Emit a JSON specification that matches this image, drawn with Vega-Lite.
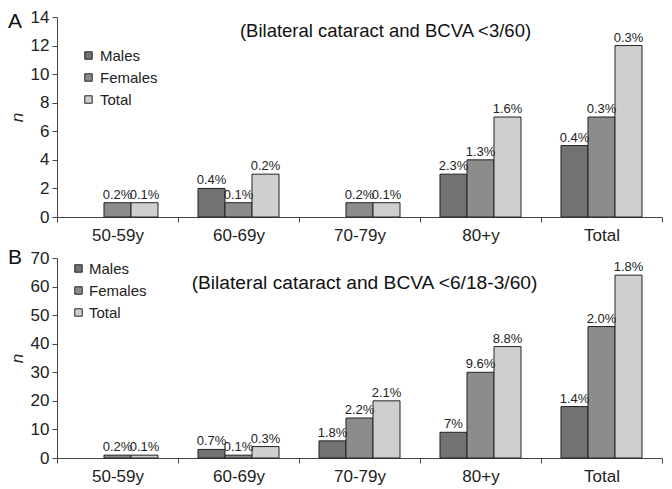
{
  "$schema": "https://vega.github.io/schema/vega-lite/v6.json",
  "background": "white",
  "padding": {"left": 8, "top": 8, "right": 2, "bottom": 2},
  "spacing": 4,
  "config": {
    "view": {"stroke": null},
    "font": "Liberation Sans",
    "axis": {"labelColor": "#222", "titleColor": "#222", "domainColor": "#444", "tickColor": "#444", "grid": false, "labelFontSize": 17, "labelFont": "Liberation Sans", "labelOverlap": false},
    "legend": {"labelFontSize": 15, "labelColor": "#222"}
  },
  "datasets": {
    "a": [
      {"age": "50-59y", "group": "Females", "n": 1, "label": "0.2%"},
      {"age": "50-59y", "group": "Total", "n": 1, "label": "0.1%"},
      {"age": "60-69y", "group": "Males", "n": 2, "label": "0.4%"},
      {"age": "60-69y", "group": "Females", "n": 1, "label": "0.1%"},
      {"age": "60-69y", "group": "Total", "n": 3, "label": "0.2%"},
      {"age": "70-79y", "group": "Females", "n": 1, "label": "0.2%"},
      {"age": "70-79y", "group": "Total", "n": 1, "label": "0.1%"},
      {"age": "80+y", "group": "Males", "n": 3, "label": "2.3%"},
      {"age": "80+y", "group": "Females", "n": 4, "label": "1.3%"},
      {"age": "80+y", "group": "Total", "n": 7, "label": "1.6%"},
      {"age": "Total", "group": "Males", "n": 5, "label": "0.4%"},
      {"age": "Total", "group": "Females", "n": 7, "label": "0.3%"},
      {"age": "Total", "group": "Total", "n": 12, "label": "0.3%"}
    ],
    "b": [
      {"age": "50-59y", "group": "Females", "n": 1, "label": "0.2%"},
      {"age": "50-59y", "group": "Total", "n": 1, "label": "0.1%"},
      {"age": "60-69y", "group": "Males", "n": 3, "label": "0.7%"},
      {"age": "60-69y", "group": "Females", "n": 1, "label": "0.1%"},
      {"age": "60-69y", "group": "Total", "n": 4, "label": "0.3%"},
      {"age": "70-79y", "group": "Males", "n": 6, "label": "1.8%"},
      {"age": "70-79y", "group": "Females", "n": 14, "label": "2.2%"},
      {"age": "70-79y", "group": "Total", "n": 20, "label": "2.1%"},
      {"age": "80+y", "group": "Males", "n": 9, "label": "7%"},
      {"age": "80+y", "group": "Females", "n": 30, "label": "9.6%"},
      {"age": "80+y", "group": "Total", "n": 39, "label": "8.8%"},
      {"age": "Total", "group": "Males", "n": 18, "label": "1.4%"},
      {"age": "Total", "group": "Females", "n": 46, "label": "2.0%"},
      {"age": "Total", "group": "Total", "n": 64, "label": "1.8%"}
    ],
    "capA": [{"age": "70-79y", "n": 13, "caption": "(Bilateral cataract and BCVA <3/60)"}],
    "capB": [{"age": "70-79y", "n": 61.3, "caption": "(Bilateral cataract and BCVA <6/18-3/60)"}]
  },
  "vconcat": [
    {
      "width": 605,
      "height": 200,
      "title": {"text": "A", "anchor": "start", "frame": "group", "dx": -49, "dy": 28, "fontSize": 21, "font": "Liberation Sans", "fontWeight": "normal", "color": "#111"},
      "encoding": {
        "x": {"field": "age", "type": "nominal", "sort": ["50-59y", "60-69y", "70-79y", "80+y", "Total"], "scale": {"paddingInner": 0, "paddingOuter": 0}, "axis": {"title": null, "labelAngle": 0, "tickBand": "extent", "tickSize": 5, "labelPadding": 5}},
        "y": {"field": "n", "type": "quantitative", "scale": {"domain": [0, 14]}, "axis": {"title": "n", "titleFontStyle": "italic", "titleFontWeight": "normal", "titleFontSize": 17, "values": [0, 2, 4, 6, 8, 10, 12, 14], "labelOverlap": false, "tickSize": 5, "labelPadding": 3, "titlePadding": 4}}
      },
      "layer": [
        {
          "data": {"name": "a"},
          "mark": {"type": "bar", "stroke": "#222", "strokeWidth": 1},
          "encoding": {
            "xOffset": {"field": "group", "type": "nominal", "scale": {"domain": ["Males", "Females", "Total"], "paddingInner": 0, "paddingOuter": 0.74}},
            "color": {"field": "group", "type": "nominal", "scale": {"domain": ["Males", "Females", "Total"], "range": ["#727272", "#8c8c8c", "#cfcfcf"]}, "legend": {"title": null, "orient": "none", "legendX": 24, "legendY": 31, "symbolType": "square", "symbolSize": 55, "symbolStrokeColor": "#222", "symbolStrokeWidth": 1, "rowPadding": 6, "labelOffset": 4}}
          }
        },
        {
          "data": {"name": "a"},
          "mark": {"type": "text", "baseline": "bottom", "dy": -1, "fontSize": 13, "color": "#222"},
          "encoding": {
            "xOffset": {"field": "group", "type": "nominal"},
            "text": {"field": "label"}
          }
        },
        {
          "data": {"name": "capA"},
          "mark": {"type": "text", "fontSize": 18.5, "dx": 26, "color": "#111", "baseline": "middle"},
          "encoding": {
            "text": {"field": "caption"}
          }
        }
      ]
    },
    {
      "width": 605,
      "height": 200,
      "title": {"text": "B", "anchor": "start", "frame": "group", "dx": -49, "dy": 23, "fontSize": 21, "font": "Liberation Sans", "fontWeight": "normal", "color": "#111"},
      "encoding": {
        "x": {"field": "age", "type": "nominal", "sort": ["50-59y", "60-69y", "70-79y", "80+y", "Total"], "scale": {"paddingInner": 0, "paddingOuter": 0}, "axis": {"title": null, "labelAngle": 0, "tickBand": "extent", "tickSize": 5, "labelPadding": 5}},
        "y": {"field": "n", "type": "quantitative", "scale": {"domain": [0, 70]}, "axis": {"title": "n", "titleFontStyle": "italic", "titleFontWeight": "normal", "titleFontSize": 17, "values": [0, 10, 20, 30, 40, 50, 60, 70], "labelOverlap": false, "tickSize": 5, "labelPadding": 3, "titlePadding": 4}}
      },
      "layer": [
        {
          "data": {"name": "b"},
          "mark": {"type": "bar", "stroke": "#222", "strokeWidth": 1},
          "encoding": {
            "xOffset": {"field": "group", "type": "nominal", "scale": {"domain": ["Males", "Females", "Total"], "paddingInner": 0, "paddingOuter": 0.74}},
            "color": {"field": "group", "type": "nominal", "scale": {"domain": ["Males", "Females", "Total"], "range": ["#727272", "#8c8c8c", "#cfcfcf"]}, "legend": {"title": null, "orient": "none", "legendX": 14, "legendY": 3, "symbolType": "square", "symbolSize": 55, "symbolStrokeColor": "#222", "symbolStrokeWidth": 1, "rowPadding": 6, "labelOffset": 3}}
          }
        },
        {
          "data": {"name": "b"},
          "mark": {"type": "text", "baseline": "bottom", "dy": -1, "fontSize": 13, "color": "#222"},
          "encoding": {
            "xOffset": {"field": "group", "type": "nominal"},
            "text": {"field": "label"}
          }
        },
        {
          "data": {"name": "capB"},
          "mark": {"type": "text", "fontSize": 19.2, "dx": 5, "color": "#111", "baseline": "middle"},
          "encoding": {
            "text": {"field": "caption"}
          }
        }
      ]
    }
  ],
  "resolve": {"scale": {"color": "independent"}, "legend": {"color": "independent"}}
}
